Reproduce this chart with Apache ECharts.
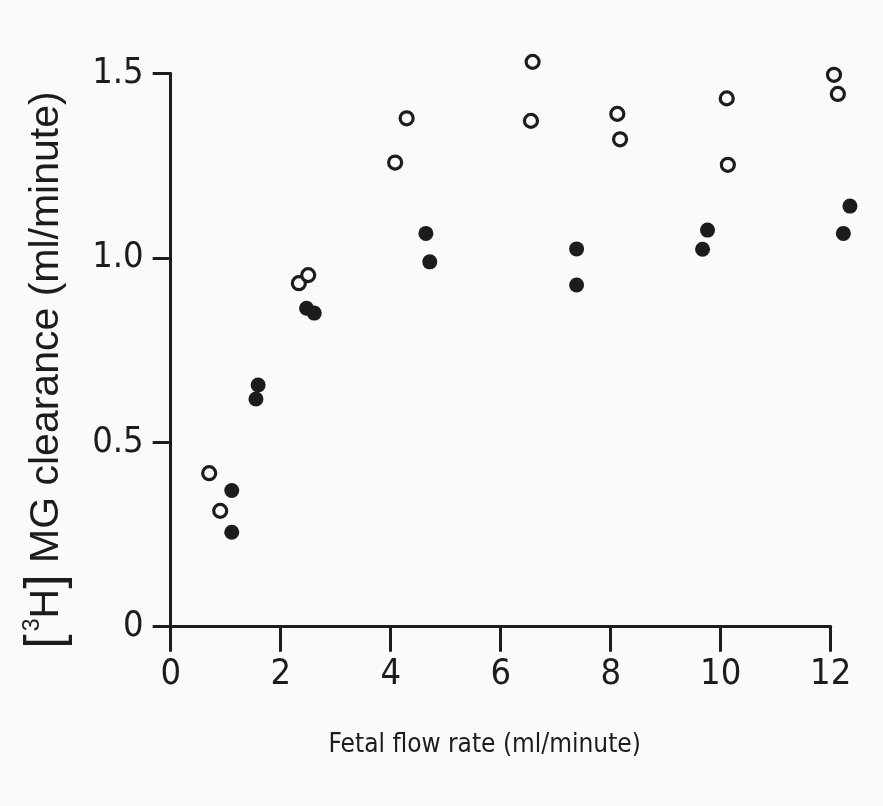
<!DOCTYPE html>
<html>
<head>
<meta charset="utf-8">
<script src="https://cdn.jsdelivr.net/npm/echarts@6/dist/echarts.min.js"></script>
<style>
  html, body { margin: 0; padding: 0; background: #fafafa; }
  #chart { width: 883px; height: 806px; }
</style>
</head>
<body>
<div id="chart"></div>
<script>
// Fetal flow rate (ml/minute) vs [3H]MG clearance (ml/minute)
const openFlow      = [0.70, 0.90, 2.33, 2.50, 4.08, 4.29, 6.55, 6.58, 8.12, 8.17, 10.11, 10.13, 12.06, 12.13];
const openClearance = [0.416, 0.314, 0.931, 0.953, 1.258, 1.378, 1.371, 1.531, 1.390, 1.321, 1.432, 1.252, 1.496, 1.444];

const filledFlow      = [1.11, 1.11, 1.55, 1.59, 2.47, 2.61, 4.64, 4.71, 7.38, 7.38, 9.67, 9.76, 12.23, 12.35];
const filledClearance = [0.369, 0.256, 0.617, 0.655, 0.863, 0.850, 1.066, 0.989, 1.024, 0.926, 1.023, 1.075, 1.066, 1.140];

const xTicks = [0, 2, 4, 6, 8, 10, 12];
const yTicks = [0, 0.5, 1.0, 1.5];

const pairs = (xs, ys) => xs.map((x, i) => [x, ys[i]]);

const ink = '#1c1c1c';
const narrow = "'Liberation Sans Narrow', 'DejaVu Sans Condensed', sans-serif";
const plain = "'Liberation Sans', Arial, sans-serif";

const chart = echarts.init(document.getElementById('chart'));
chart.setOption({
  backgroundColor: '#fafafa',
  animation: false,
  grid: { left: 170.7, right: 52.3, top: 73.3, bottom: 179.3, containLabel: false },
  xAxis: {
    type: 'value',
    min: xTicks[0],
    max: xTicks[xTicks.length - 1],
    interval: 2,
    splitLine: { show: false },
    axisLine: { show: true, onZero: false, lineStyle: { color: ink, width: 3 } },
    axisTick: { show: true, length: 25, lineStyle: { color: ink, width: 3 } },
    axisLabel: {
      margin: 30, color: ink, fontFamily: narrow, fontSize: 36,
      formatter: v => xTicks.includes(v) ? String(v) : ''
    },
    name: 'Fetal flow rate (ml/minute)',
    nameLocation: 'middle',
    nameGap: 106,
    nameTextStyle: { color: ink, fontFamily: narrow, fontSize: 26, padding: [0, 32, 0, 0] }
  },
  yAxis: {
    type: 'value',
    min: yTicks[0],
    max: yTicks[yTicks.length - 1],
    interval: 0.5,
    splitLine: { show: false },
    axisLine: { show: true, onZero: false, lineStyle: { color: ink, width: 3 } },
    axisTick: { show: true, length: 18, lineStyle: { color: ink, width: 3 } },
    axisLabel: {
      margin: 27, color: ink, fontFamily: narrow, fontSize: 36,
      formatter: v => (v === 0 ? '0' : v.toFixed(1))
    },
    name: '{br|[}{sup|3}{h|H}{br|]} MG clearance (ml/minute)',
    nameLocation: 'middle',
    nameRotate: 90,
    nameGap: 98,
    nameTextStyle: {
      color: ink,
      fontFamily: plain,
      fontSize: 41,
      padding: [0, 40, 0, 0],
      rich: {
        br: { fontSize: 52, color: ink, fontFamily: plain },
        sup: { fontSize: 23, color: ink, verticalAlign: 'top', padding: [0, 0, 19, 3], fontFamily: plain },
        h: { fontSize: 41, color: ink, fontFamily: plain }
      }
    }
  },
  series: [
    {
      type: 'scatter',
      clip: false,
      data: pairs(openFlow, openClearance),
      symbol: 'circle',
      symbolSize: 13,
      itemStyle: { color: '#fafafa', borderColor: ink, borderWidth: 3.2, opacity: 1 }
    },
    {
      type: 'scatter',
      clip: false,
      data: pairs(filledFlow, filledClearance),
      symbol: 'circle',
      symbolSize: 15,
      itemStyle: { color: ink, opacity: 1 }
    }
  ]
});
</script>
</body>
</html>
